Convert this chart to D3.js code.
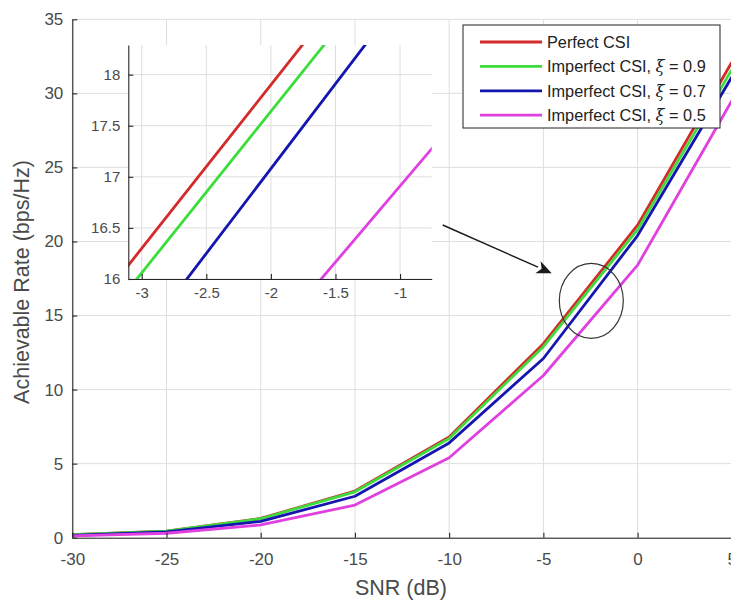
<!DOCTYPE html>
<html>
<head>
<meta charset="utf-8">
<script src="https://cdn.jsdelivr.net/npm/d3@7"></script>
<style>
  html, body { margin: 0; padding: 0; background: #fff; }
  svg { display: block; font-family: "Liberation Sans", Arial, Helvetica, sans-serif; }
</style>
</head>
<body>
<svg id="chart" width="731" height="601"></svg>
<script>
// SNR sweep (dB) and achievable rate (bps/Hz) for each CSI case
const snr = [-30, -25, -20, -15, -10, -5, 0, 5];
const perfectCSI = [0.2, 0.45, 1.3, 3.15, 6.8, 13.1, 21.1, 32.1];
const imperfect09 = [0.2, 0.45, 1.28, 3.1, 6.7, 12.9, 20.8, 31.6];
const imperfect07 = [0.15, 0.4, 1.1, 2.8, 6.4, 12.1, 20.4, 31.1];
const imperfect05 = [0.12, 0.3, 0.86, 2.2, 5.4, 10.95, 18.4, 29.5];

const seriesNames = ["Perfect CSI", "Imperfect CSI, ", "Imperfect CSI, ", "Imperfect CSI, "];
const seriesXi = [null, "0.9", "0.7", "0.5"];
const seriesColors = ["#d42a2a", "#3ddc3d", "#1515b0", "#e040e0"];

const xTicks = [-30, -25, -20, -15, -10, -5, 0, 5];
const yTicks = [0, 5, 10, 15, 20, 25, 30, 35];
const insetXTicks = [-3, -2.5, -2, -1.5, -1];
const insetYTicks = [16, 16.5, 17, 17.5, 18];

const allSeries = [perfectCSI, imperfect09, imperfect07, imperfect05].map((vals, i) => ({
  name: seriesNames[i],
  xi: seriesXi[i],
  color: seriesColors[i],
  points: snr.map((s, j) => [s, vals[j]])
}));

const svg = d3.select("#chart");
const gridColor = "#dedede";
const axisColor = "#262626";
const labelColor = "#4a4a4a";
const plain = d => String(d);   // keep ASCII hyphen for negatives

// ---------- main axes ----------
const x = d3.scaleLinear().domain([-30, 5]).range([72.3, 731.8]);
const y = d3.scaleLinear().domain([0, 35]).range([537.7, 19.3]);

const grid = svg.append("g");
grid.selectAll("line.vx").data(xTicks).join("line")
  .attr("x1", d => x(d)).attr("x2", d => x(d))
  .attr("y1", y(0)).attr("y2", y(35))
  .attr("stroke", gridColor).attr("stroke-width", 1);
grid.selectAll("line.hy").data(yTicks).join("line")
  .attr("x1", x(-30)).attr("x2", x(5))
  .attr("y1", d => y(d)).attr("y2", d => y(d))
  .attr("stroke", gridColor).attr("stroke-width", 1);

const line = d3.line().x(d => x(d[0])).y(d => y(d[1]));
svg.append("g").selectAll("path").data(allSeries).join("path")
  .attr("d", d => line(d.points))
  .attr("fill", "none")
  .attr("stroke", d => d.color)
  .attr("stroke-width", 2.8)
  .attr("stroke-linejoin", "round");

function styleAxis(g, fontSize) {
  g.select(".domain").attr("stroke", axisColor).attr("stroke-width", 1.1);
  g.selectAll(".tick line").attr("stroke", axisColor).attr("stroke-width", 1.1);
  g.selectAll(".tick text").attr("fill", labelColor).style("font-size", fontSize + "px")
    .style("font-family", "'Liberation Sans', Arial, sans-serif");
}

const xAxisG = svg.append("g").attr("transform", `translate(0,${y(0)})`)
  .call(d3.axisBottom(x).tickValues(xTicks).tickSizeInner(-5).tickSizeOuter(0).tickPadding(15).tickFormat(plain));
styleAxis(xAxisG, 17);
const yAxisG = svg.append("g").attr("transform", `translate(${x(-30)},0)`)
  .call(d3.axisLeft(y).tickValues(yTicks).tickSizeInner(-5).tickSizeOuter(0).tickPadding(9).tickFormat(plain));
styleAxis(yAxisG, 17);

svg.append("text")
  .attr("x", 401).attr("y", 595)
  .attr("text-anchor", "middle")
  .attr("fill", labelColor).style("font-size", "21.5px")
  .text("SNR (dB)");
svg.append("text")
  .attr("transform", "translate(29,282) rotate(-90)")
  .attr("text-anchor", "middle")
  .attr("fill", labelColor).style("font-size", "21.5px")
  .text("Achievable Rate (bps/Hz)");

// ---------- zoomed inset ----------
const ix = d3.scaleLinear().domain([-3.104, -0.755]).range([128.3, 431.7]);
const iy = d3.scaleLinear().domain([16, 18.29]).range([279, 45]);

const inset = svg.append("g");
inset.append("rect")
  .attr("x", ix.range()[0]).attr("y", iy.range()[1])
  .attr("width", ix.range()[1] - ix.range()[0])
  .attr("height", iy.range()[0] - iy.range()[1])
  .attr("fill", "#fff");
inset.append("clipPath").attr("id", "insetClip").append("rect")
  .attr("x", ix.range()[0]).attr("y", iy.range()[1])
  .attr("width", ix.range()[1] - ix.range()[0])
  .attr("height", iy.range()[0] - iy.range()[1]);

inset.selectAll("line.ivx").data(insetXTicks).join("line")
  .attr("x1", d => ix(d)).attr("x2", d => ix(d))
  .attr("y1", iy.range()[0]).attr("y2", iy.range()[1])
  .attr("stroke", gridColor).attr("stroke-width", 1);
inset.selectAll("line.ihy").data(insetYTicks).join("line")
  .attr("x1", ix.range()[0]).attr("x2", ix.range()[1])
  .attr("y1", d => iy(d)).attr("y2", d => iy(d))
  .attr("stroke", gridColor).attr("stroke-width", 1);

const iline = d3.line().x(d => ix(d[0])).y(d => iy(d[1]));
inset.append("g").attr("clip-path", "url(#insetClip)")
  .selectAll("path").data(allSeries).join("path")
  .attr("d", d => iline(d.points))
  .attr("fill", "none")
  .attr("stroke", d => d.color)
  .attr("stroke-width", 2.8);

const ixAxisG = inset.append("g").attr("transform", `translate(0,${iy.range()[0]})`)
  .call(d3.axisBottom(ix).tickValues(insetXTicks).tickSizeInner(-5).tickSizeOuter(0).tickPadding(8).tickFormat(plain));
styleAxis(ixAxisG, 15);
const iyAxisG = inset.append("g").attr("transform", `translate(${ix.range()[0]},0)`)
  .call(d3.axisLeft(iy).tickValues(insetYTicks).tickSizeInner(-5).tickSizeOuter(0).tickPadding(8).tickFormat(plain));
styleAxis(iyAxisG, 15);

// ---------- pointer arrow and highlight ellipse ----------
const arrowFrom = [442.7, 225], arrowTip = [551.7, 273.3];
const ang = Math.atan2(arrowTip[1] - arrowFrom[1], arrowTip[0] - arrowFrom[0]);
const headLen = 15, headHalf = 6.5;
const base = [arrowTip[0] - headLen * Math.cos(ang), arrowTip[1] - headLen * Math.sin(ang)];
svg.append("line")
  .attr("x1", arrowFrom[0]).attr("y1", arrowFrom[1])
  .attr("x2", base[0]).attr("y2", base[1])
  .attr("stroke", "#1a1a1a").attr("stroke-width", 1.4);
svg.append("polygon")
  .attr("points", [
    arrowTip,
    [base[0] + headHalf * Math.sin(ang), base[1] - headHalf * Math.cos(ang)],
    [base[0] + 4 * Math.cos(ang), base[1] + 4 * Math.sin(ang)],
    [base[0] - headHalf * Math.sin(ang), base[1] + headHalf * Math.cos(ang)]
  ].map(p => p.join(",")).join(" "))
  .attr("fill", "#1a1a1a");
svg.append("ellipse")
  .attr("cx", 591.3).attr("cy", 300.8).attr("rx", 32).attr("ry", 37.5)
  .attr("fill", "none").attr("stroke", "#333").attr("stroke-width", 1.2);

// ---------- legend ----------
const legend = svg.append("g");
legend.append("rect")
  .attr("x", 463).attr("y", 25).attr("width", 257).attr("height", 103)
  .attr("fill", "#fff").attr("stroke", "#222").attr("stroke-width", 1);
const rows = legend.selectAll("g.row").data(allSeries).join("g")
  .attr("transform", (d, i) => `translate(0,${42 + i * 24.4})`);
rows.append("line")
  .attr("x1", 480).attr("x2", 542).attr("y1", 0).attr("y2", 0)
  .attr("stroke", d => d.color).attr("stroke-width", 2.8);
const lt = rows.append("text")
  .attr("x", 547).attr("y", 0).attr("dy", "0.35em")
  .attr("fill", "#222").style("font-size", "16.3px");
lt.append("tspan").text(d => d.name);
lt.filter(d => d.xi !== null).append("tspan")
  .style("font-family", "'DejaVu Serif', serif").style("font-style", "italic")
  .text("ξ");
lt.filter(d => d.xi !== null).append("tspan").text(d => " = " + d.xi);
</script>
</body>
</html>
